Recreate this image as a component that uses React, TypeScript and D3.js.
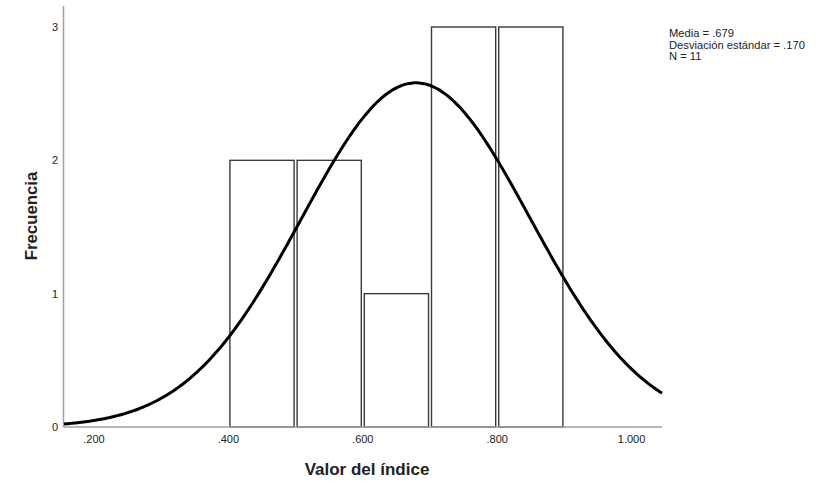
import { useMemo } from "react";
import * as d3 from "d3";

const W = 820, H = 482;

// histogram bins (lower edge) and counts
const binStarts = [0.4, 0.5, 0.6, 0.7, 0.8];
const counts = [2, 2, 1, 3, 3];
const binWidth = 0.1;

const xTicks = [0.2, 0.4, 0.6, 0.8, 1.0];
const xTickLabels = [".200", ".400", ".600", ".800", "1.000"];
const yTicks = [0, 1, 2, 3];

// summary shown in the legend
const mean = 0.679;
const sd = 0.17;
const n = 11;

const FONT = "'Liberation Sans', Arial, sans-serif";

export default function App() {
  const x = d3.scaleLinear([0.4, 0.8], [228.4, 497.2]);
  const y = d3.scaleLinear([0, 3], [427, 27]);

  const [x0, x1] = [x.invert(64), x.invert(662)];

  const curve = useMemo(() => {
    const pts = d3.range(0, 301).map((i) => {
      const v = x0 + ((x1 - x0) * i) / 300;
      const dens = Math.exp(-0.5 * ((v - mean) / sd) ** 2) / (sd * Math.sqrt(2 * Math.PI));
      return [v, dens * n * binWidth] as [number, number];
    });
    return d3.line<[number, number]>().x((d) => x(d[0])).y((d) => y(d[1])).curve(d3.curveBasis)(pts);
  }, []);

  return (
    <svg width={W} height={H} style={{ position: "fixed", left: 0, top: 0, background: "#fff" }}>
      {/* Bars */}
      {binStarts.map((b, i) => (
        <rect key={b}
          x={x(b) + 1.5} y={y(counts[i])}
          width={x(b + binWidth) - x(b) - 3} height={y(0) - y(counts[i])}
          fill="#fff" stroke="#3a3a3a" strokeWidth="1.4" />
      ))}

      {/* Axes */}
      <line x1={64} y1={y(0)} x2={662} y2={y(0)} stroke="#a0a0a0" strokeWidth="1.5" />
      <line x1={63.5} y1={6} x2={63.5} y2={y(0) + 0.5} stroke="#a0a0a0" strokeWidth="1.5" />

      {/* Normal curve */}
      <path d={curve ?? ""} fill="none" stroke="#000" strokeWidth="3" />

      {/* Tick labels */}
      {xTicks.map((t, i) => (
        <text key={t} x={x(t)} y={443} textAnchor="middle" fontSize="11" fill="#222" fontFamily={FONT}>
          {xTickLabels[i]}
        </text>
      ))}
      {yTicks.map((t) => (
        <text key={t} x={58} y={y(t) + 4} textAnchor="end" fontSize="11" fill="#222" fontFamily={FONT}>
          {t}
        </text>
      ))}

      {/* Axis titles */}
      <text x={367} y={475} textAnchor="middle" fontSize="17" fontWeight="bold" fill="#222" fontFamily={FONT}>
        Valor del índice
      </text>
      <text transform="translate(36.5,216) rotate(-90)" textAnchor="middle" fontSize="16.8" fontWeight="bold" fill="#222" fontFamily={FONT}>
        Frecuencia
      </text>

      {/* Legend */}
      <g fontSize="11.2" fill="#222" fontFamily={FONT}>
        <text x={669} y={37}>Media = .679</text>
        <text x={669} y={48.5}>Desviación estándar = .170</text>
        <text x={669} y={60}>N = 11</text>
      </g>
    </svg>
  );
}
